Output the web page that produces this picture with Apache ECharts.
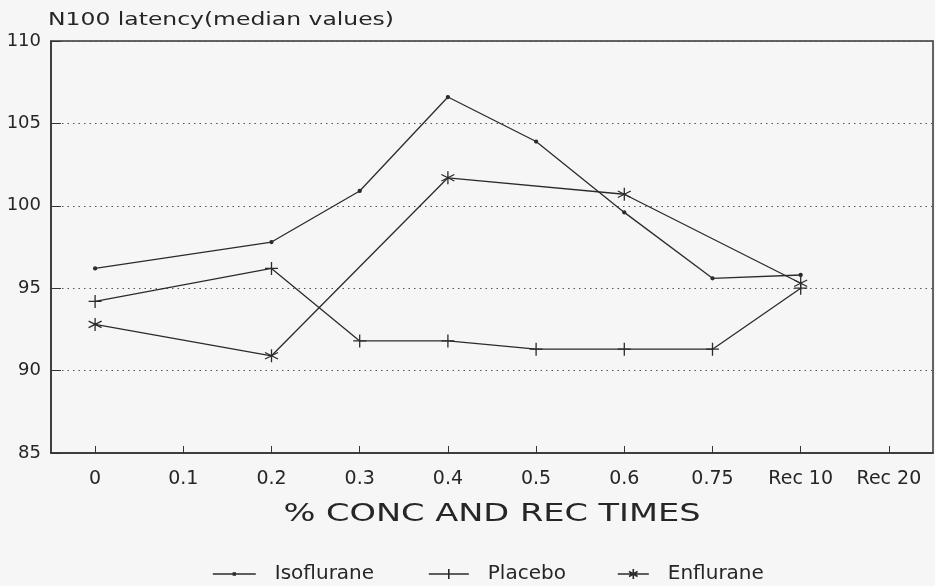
<!DOCTYPE html>
<html>
<head>
<meta charset="utf-8">
<script src="https://cdn.jsdelivr.net/npm/echarts@6/dist/echarts.min.js"></script>
<style>
html,body{margin:0;padding:0;background:#f6f6f6;}
#c{width:935px;height:586px;}
</style>
</head>
<body>
<div id="c"></div>
<script>
const categories = ['0','0.1','0.2','0.3','0.4','0.5','0.6','0.75','Rec 10','Rec 20'];
const isoflurane = [96.2, null, 97.8, 100.9, 106.6, 103.9, 99.6, 95.6, 95.8, null];
const placebo    = [94.2, null, 96.2, 91.8, 91.8, 91.3, 91.3, 91.3, 95.0, null];
const enflurane  = [92.8, null, 90.9, null, 101.7, null, 100.7, null, 95.3, null];
const yTicks = [85, 90, 95, 100, 105, 110];
const titleText = 'N100 latency(median values)';
const xName = '% CONC AND REC TIMES';
const seriesNames = ['Isoflurane', 'Placebo', 'Enflurane'];

const ink = '#2b2b2b';
const txt = '#262626';
const font = "'DejaVu Sans ExtraLight', 'DejaVu Sans'";
const plusPath = 'path://M0,5 L10,5 M5,0 L5,10';
const starPath = 'path://M5,0 L5,10 M0.7,2.5 L9.3,7.5 M0.7,7.5 L9.3,2.5';
const legIcons = [
  'path://M0,5 L43,5 M20.6,4.1 L22.4,4.1 L22.4,5.9 L20.6,5.9 Z',
  'path://M0,5 L40,5 M20,0 L20,10',
  'path://M0,5 L31,5 M15.5,0 L15.5,10 M11.2,2.5 L19.8,7.5 M11.2,7.5 L19.8,2.5'
];
const legWidths = [43, 40, 31];

function mk(name, data, symbol, size) {
  return {
    name: name, type: 'line', data: data, connectNulls: true,
    symbol: symbol, symbolSize: size, showSymbol: true,
    lineStyle: {color: ink, width: 1.3},
    itemStyle: {color: ink, borderColor: ink, borderWidth: 1.3},
    emphasis: {disabled: true}, animation: false
  };
}

const chart = echarts.init(document.getElementById('c'));
chart.setOption({
  backgroundColor: '#f6f6f6',
  animation: false,
  graphic: [
    {type: 'text', x: 48, y: 21, scaleX: 1.38, silent: true,
     style: {text: titleText, fontFamily: font, fontSize: 17, fill: txt, verticalAlign: 'middle', align: 'left'}},
    {type: 'text', x: 492, y: 515, scaleX: 1.4, silent: true,
     style: {text: xName, fontFamily: font, fontSize: 24, fill: txt, verticalAlign: 'middle', align: 'center'}}
  ],
  grid: {left: 51, right: 2, top: 41, bottom: 133, show: true, borderColor: '#333', borderWidth: 1.5, backgroundColor: 'transparent'},
  xAxis: {
    type: 'category', data: categories, boundaryGap: true,
    axisLine: {show: true, lineStyle: {color: '#333', width: 1.5}},
    axisTick: {show: true, inside: true, alignWithLabel: true, length: 7, lineStyle: {color: '#333'}},
    axisLabel: {fontFamily: font, fontSize: 19, color: txt, margin: 17, interval: 0},
    splitLine: {show: false}
  },
  yAxis: {
    type: 'value', min: yTicks[0], max: yTicks[yTicks.length - 1], interval: 5,
    axisLine: {show: true, lineStyle: {color: '#333', width: 1.5}},
    axisTick: {show: true, inside: true, length: 10, lineStyle: {color: '#333'}},
    axisLabel: {fontFamily: font, fontSize: 18, color: txt, margin: 10},
    splitLine: {show: true, lineStyle: {type: [1.5, 4], color: '#555', width: 1}}
  },
  legend: seriesNames.map((n, i) => ({
    top: 559, left: [207, 423, 612][i], itemWidth: legWidths[i], itemHeight: 10,
    itemStyle: {color: ink, borderColor: ink, borderWidth: 1.6},
    textStyle: {fontFamily: font, fontSize: 20, color: txt, padding: [0,0,0,14]},
    data: [{name: n, icon: legIcons[i]}]
  })),
  series: [
    mk(seriesNames[0], isoflurane, 'circle', 3),
    mk(seriesNames[1], placebo, plusPath, 13),
    mk(seriesNames[2], enflurane, starPath, 13)
  ]
});
</script>
</body>
</html>
